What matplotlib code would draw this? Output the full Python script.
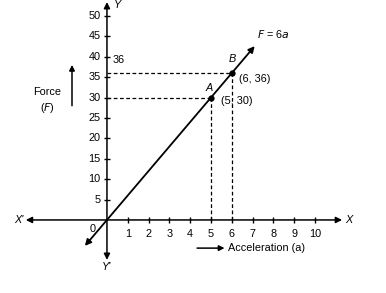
import matplotlib
matplotlib.use("Agg")
import matplotlib.pyplot as plt
import numpy as np

# data
x_ticks = [1, 2, 3, 4, 5, 6, 7, 8, 9, 10]
y_ticks = [5, 10, 15, 20, 25, 30, 35, 40, 45, 50]
slope = 6
line_a = [-1.06, 7.1]
point_labels = ["A", "B"]
point_a = [5, 6]
point_f = [30, 36]

plt.rcParams['font.family'] = ['Liberation Sans', 'DejaVu Sans']
fig = plt.figure(figsize=(3.86, 2.93), dpi=100)
ax = fig.add_axes([0, 0, 1, 1])
ax.set_xlim(-5.14, 13.41)
ax.set_ylim(-17.9, 53.9)
ax.axis('off')

fs = 7.8
k = 'black'
# axes with arrows
ap = dict(arrowstyle='<|-|>', color=k, lw=1.1, mutation_scale=9, shrinkA=0, shrinkB=0)
ax.annotate('', xy=(11.3, 0), xytext=(-3.9, 0), arrowprops=ap)
ax.annotate('', xy=(0, 53.4), xytext=(0, -9.8), arrowprops=ap)
# ticks
ax.plot(x_ticks, [0]*len(x_ticks), linestyle='none', marker='|', ms=5, mew=1, color=k)
ax.plot([0]*len(y_ticks), y_ticks, linestyle='none', marker='_', ms=5, mew=1, color=k)
for xt in x_ticks:
    ax.text(xt, -2.2, str(xt), ha='center', va='top', fontsize=fs)
for yt in y_ticks:
    ax.text(-0.3, yt, str(yt), ha='right', va='center', fontsize=fs)
ax.text(-0.55, -1.0, '0', ha='right', va='top', fontsize=fs)
ax.text(-4.0, 0, "X'", ha='right', va='center', fontsize=fs, style='italic')
ax.text(11.45, 0, "X", ha='left', va='center', fontsize=fs, style='italic')
ax.text(0.35, 53.9, "Y", ha='left', va='top', fontsize=fs, style='italic')
ax.text(0, -10.3, "Y'", ha='center', va='top', fontsize=fs, style='italic')

# line F = 6a with arrows
la = np.array(line_a)
ax.annotate('', xy=(la[1], slope*la[1]), xytext=(la[0], slope*la[0]),
            arrowprops=dict(arrowstyle='<|-|>', color=k, lw=1.3, mutation_scale=9,
                            shrinkA=0, shrinkB=0))
ax.text(7.2, 45.5, r'$F$ = 6$a$', fontsize=fs, ha='left', va='center')

# dashed guides
for a, f in zip(point_a, point_f):
    ax.plot([0, a], [f, f], ls=(0, (3, 2)), color=k, lw=0.9)
    ax.plot([a, a], [0, f], ls=(0, (3, 2)), color=k, lw=0.9)
ax.plot(point_a, point_f, 'o', color=k, ms=3.5)
ax.text(4.9, 32.3, 'A', fontsize=fs, style='italic', ha='center', va='center')
ax.text(6.0, 39.4, 'B', fontsize=fs, style='italic', ha='center', va='center')
ax.text(5.5, 29.2, '(5, 30)', fontsize=fs, ha='left', va='center')
ax.text(6.35, 34.6, '(6, 36)', fontsize=fs, ha='left', va='center')
ax.text(0.25, 39.3, '36', fontsize=fs, ha='left', va='center')

# axis titles
ax.text(-2.88, 31.4, 'Force', fontsize=fs, ha='center', va='center')
ax.text(-2.88, 27.4, r'($F$)', fontsize=fs, ha='center', va='center')
ax.annotate('', xy=(-1.68, 38.0), xytext=(-1.68, 28.0),
            arrowprops=dict(arrowstyle='-|>', color=k, lw=1.1, mutation_scale=8,
                            shrinkA=0, shrinkB=0))
ax.annotate('', xy=(5.65, -6.9), xytext=(4.33, -6.9),
            arrowprops=dict(arrowstyle='-|>', color=k, lw=1.1, mutation_scale=8,
                            shrinkA=0, shrinkB=0))
ax.text(5.8, -6.9, 'Acceleration (a)', fontsize=fs, ha='left', va='center')

fig.savefig('out.png', dpi=100)
